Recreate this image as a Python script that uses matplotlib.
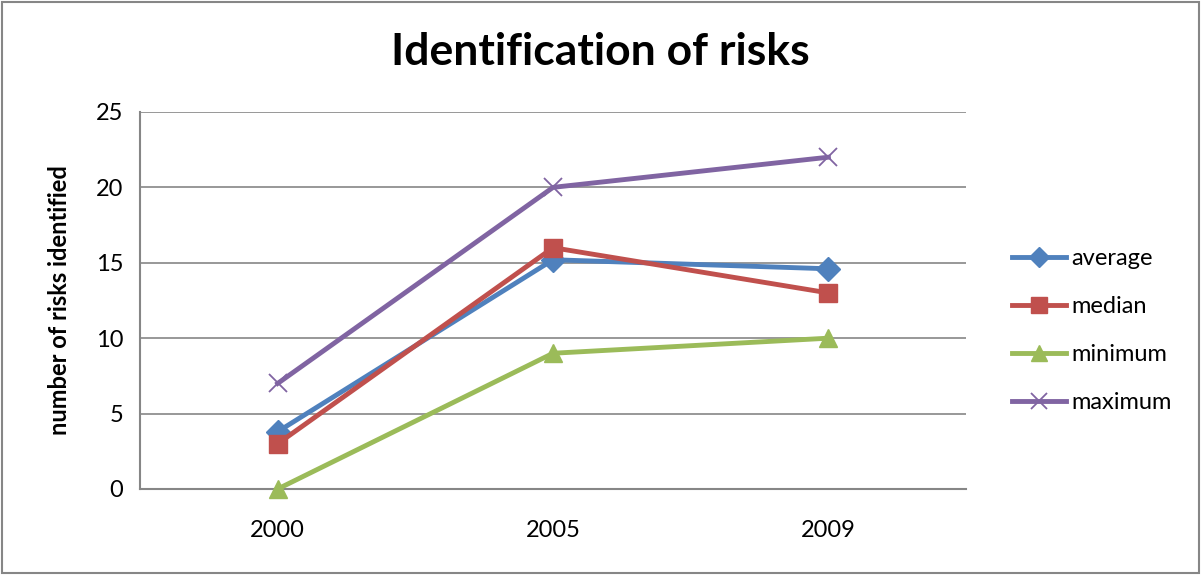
import matplotlib
matplotlib.use('Agg')
import matplotlib.pyplot as plt
from matplotlib.patches import Rectangle

plt.rcParams['font.family'] = ['Lato', 'DejaVu Sans']

years = ['2000', '2005', '2009']
average = [3.8, 15.2, 14.6]
median = [3, 16, 13]
minimum = [0, 9, 10]
maximum = [7, 20, 22]

series = [
    ('average', average, '#4F81BD', 'D', 12),
    ('median', median, '#C0504D', 's', 13),
    ('minimum', minimum, '#9BBB59', '^', 13),
    ('maximum', maximum, '#8064A2', 'x', 13),
]

fig = plt.figure(figsize=(12.01, 5.75), dpi=100)
ax = fig.add_axes([0.1166, 0.1496, 0.6878, 0.6557])

x = range(len(years))
for name, vals, color, marker, ms in series:
    if marker == 'x':
        ax.plot(x, vals, color=color, lw=3.5, marker=marker, ms=ms,
                mew=1.3, label=name, clip_on=False, zorder=3)
    else:
        ax.plot(x, vals, color=color, lw=3.5, marker=marker, ms=ms,
                mec=color, label=name, clip_on=False, zorder=3)

ax.set_xlim(-0.5, 2.5)
ax.set_ylim(0, 25)
ax.set_yticks(range(0, 26, 5))
ax.set_xticks(list(x))
ax.set_xticklabels(years)
ax.yaxis.grid(True, color='#868686', lw=1.2)
ax.set_axisbelow(True)
for s in ['top', 'right']:
    ax.spines[s].set_visible(False)
for s in ['left', 'bottom']:
    ax.spines[s].set_color('#868686')
    ax.spines[s].set_linewidth(1.5)
ax.tick_params(length=0, labelsize=17, pad=12)
ax.tick_params(axis='x', pad=22)

ax.set_ylabel('number of risks identified', fontsize=17, fontweight='bold', labelpad=18)
fig.text(0.5, 0.91, 'Identification of risks', ha='center', va='center',
         fontsize=32, fontweight='bold')

ax.legend(loc='center left', bbox_to_anchor=(1.03, 0.42), frameon=False,
          fontsize=17, handlelength=2.3, labelspacing=1.15, handletextpad=0.2,
          markerscale=0.85)

fig.patches.append(Rectangle((0.002, 0.003), 0.996, 0.994, transform=fig.transFigure,
                             fill=False, edgecolor='#868686', lw=1.5))

fig.savefig('out.png', dpi=100)
